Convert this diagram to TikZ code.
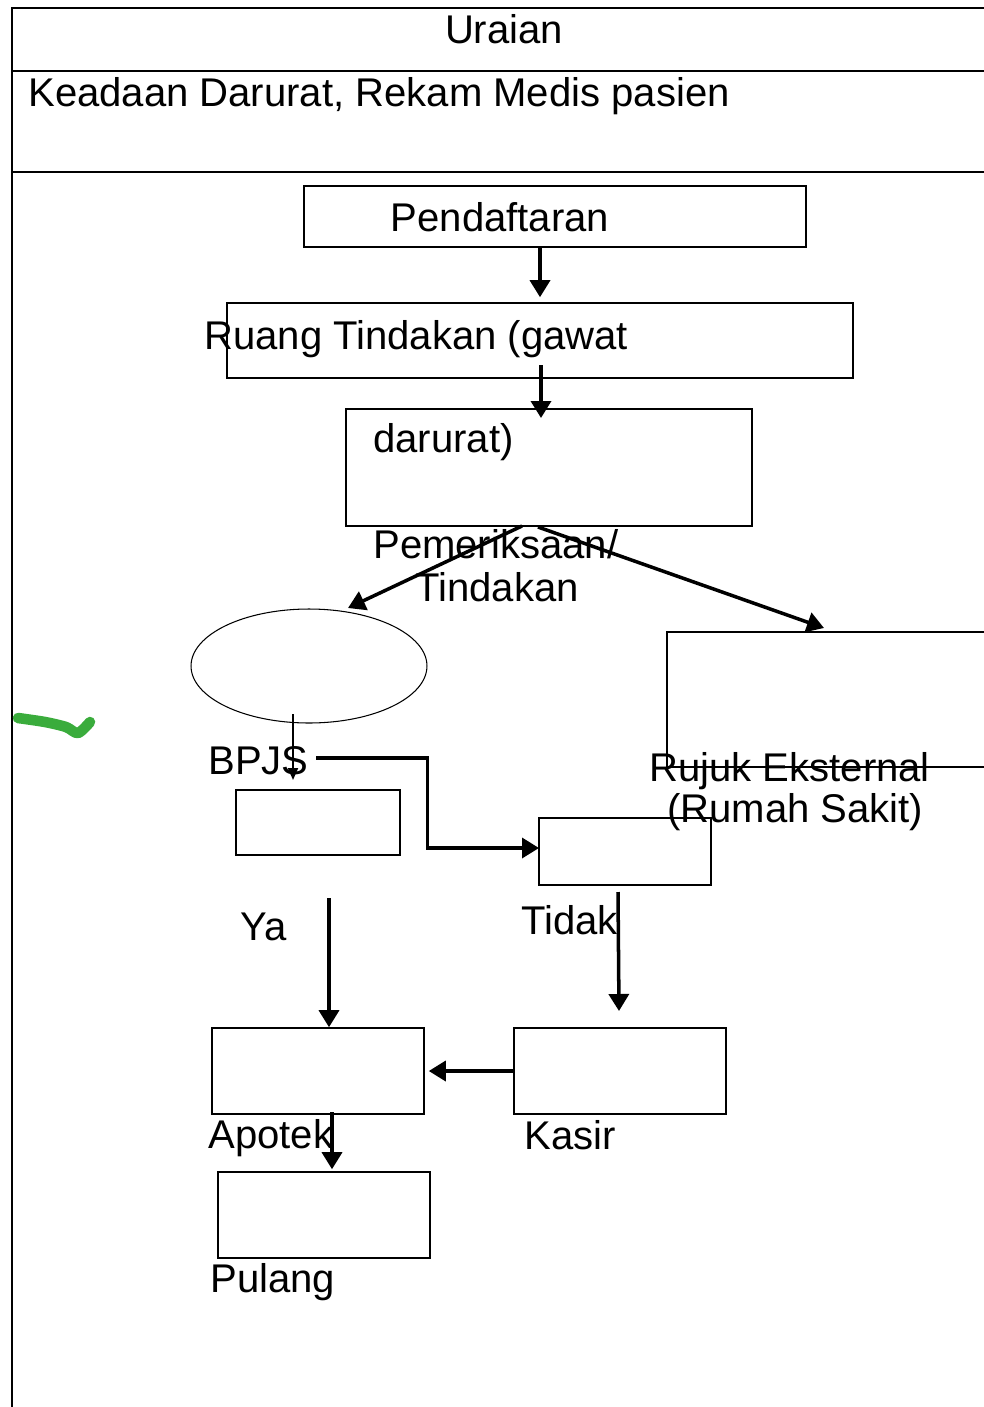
\documentclass[tikz,border=0pt]{standalone}
\usepackage{fontspec}
\setmainfont{Liberation Sans}
\usetikzlibrary{shapes,fit,calc,positioning,arrows.meta}
\definecolor{stabilo}{RGB}{58,172,60}

\begin{document}
\begin{tikzpicture}[x=.02cm,y=-.02cm,
                    every node/.append style={font=\fontsize{22.8}{27}\selectfont,
                    inner sep=0,anchor=base west},
                    box/.style={draw,line width=.9pt,inner sep=0,anchor=center},
                    arr/.style={line width=2pt,-{Triangle[length=.34cm,width=.4cm]}},
                    arrsmall/.style={line width=1.1pt,-{Triangle[length=.24cm,width=.2cm]}}]
    \useasboundingbox (0,0) rectangle (984,1407);
    \clip (0,0) rectangle (984,1407);
    \begin{scope}[line width=.9pt]
      \draw (12,1420) -- (12,8) -- (1000,8);
      \draw (12,71) -- (1000,71);
      \draw (12,172) -- (1000,172);
    \end{scope}
    \node at (504,43) [anchor=base] (uraian) {Uraian};
    \node at (28,106) (keadaan) {Keadaan Darurat, Rekam Medis pasien};
    % kotak
    \node[box,fit={(304,186) (806,247)}] (daftar) {};
    \node[box,fit={(227,303) (853,378)}] (ruang) {};
    \node[box,fit={(346,409) (752,526)}] (darurat) {};
    \node[draw,ellipse,line width=.6pt,anchor=center,minimum width=4.72cm,
          minimum height=2.28cm] at (309,666) (kartu) {};
    \node[box,fit={(667,632) (1010,767)}] (rujuk) {};
    \node[box,fit={(236,790) (400,855)}] (bpjs) {};
    \node[box,fit={(539,818) (711,885)}] (tidak) {};
    \node[box,fit={(212,1028) (424,1114)}] (apotek) {};
    \node[box,fit={(514,1028) (726,1114)}] (kasir) {};
    \node[box,fit={(218,1172) (430,1258)}] (pulang) {};
    % teks
    \node at (500,231) [anchor=base] (tdaftar) {Pendaftaran};
    \node at (204,349) (truang) {Ruang Tindakan (gawat};
    \node at (373,452) (tdarurat) {darurat)};
    \node at (373,558) (tperiksa) {Pemeriksaan/};
    \node at (415,601) (ttindak) {Tindakan};
    \node at (208,774) (tbpjs) {BPJS};
    \node at (649,781) (trujuk) {Rujuk Eksternal};
    \node at (667,822) (trs) {(Rumah Sakit)};
    \node at (240,940) (tya) {Ya};
    \node at (521,934) (ttidak) {Tidak};
    \node at (208,1148) (tapotek) {Apotek};
    \node at (524,1149) (tkasir) {Kasir};
    \node at (210,1292) (tpulang) {Pulang};
    % panah
    \coordinate (r1) at (541,365);
    \coordinate (r2) at (541,418);
    \coordinate (d1) at (522,526);
    \coordinate (d2) at (348,608);
    \coordinate (d3) at (538,527);
    \coordinate (d4) at (824,628);
    \coordinate (k1) at (293,714);
    \coordinate (k2) at (293,780);
    \coordinate (b1) at (316,758);
    \coordinate (b2) at (539,848);
    \coordinate (y1) at (329,898);
    \coordinate (t1) at (618,892);
    \coordinate (t2) at (619,1011);
    \coordinate (p1) at (332,1112);
    \draw[arr,shorten >=.1cm] (daftar.south -| ruang.north) -- (ruang.north);
    \draw[arr] (r1) -- (r2);
    \draw[arr] (d1) -- (d2);
    \draw[arr] (d3) -- (d4);
    \draw[arrsmall] (k1) -- (k2);
    \draw[arr] (b1) -| ($(b1)!.5!(b2)$) |- (b2);
    \draw[arr] (y1) -- (y1 |- apotek.north);
    \draw[arr] (t1) -- (t2);
    \draw[arr,shorten >=.08cm] (kasir.west) -- (apotek.east);
    \draw[arr,shorten >=.04cm] (p1) -- (p1 |- pulang.north);
    % coretan hijau
    \draw[stabilo,line width=6pt,line cap=round,line join=round]
      plot[smooth] coordinates {(18,718) (45,722) (66,727) (78,733) (90,722)};
\end{tikzpicture}
\end{document}
